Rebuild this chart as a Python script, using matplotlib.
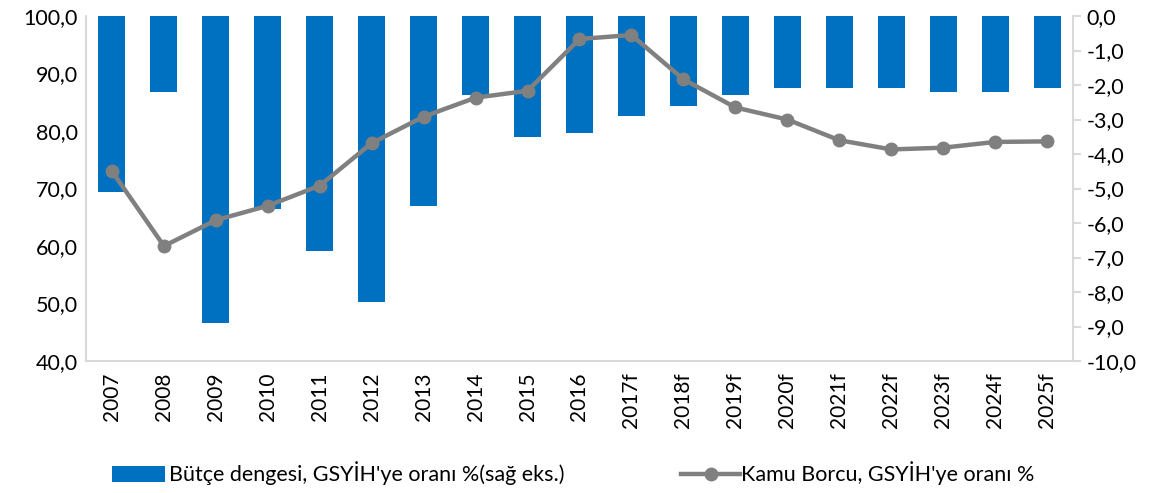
import matplotlib
matplotlib.use("Agg")
import matplotlib.pyplot as plt
from matplotlib.patches import Patch
from matplotlib.lines import Line2D

plt.rcParams['font.family'] = ['Lato', 'DejaVu Sans']

years = ['2007', '2008', '2009', '2010', '2011', '2012', '2013', '2014', '2015', '2016',
         '2017f', '2018f', '2019f', '2020f', '2021f', '2022f', '2023f', '2024f', '2025f']
budget_balance = [-5.1, -2.2, -8.9, -5.6, -6.8, -8.3, -5.5, -2.3, -3.5, -3.4,
                  -2.9, -2.6, -2.3, -2.1, -2.1, -2.1, -2.2, -2.2, -2.1]
public_debt = [73.0, 60.0, 64.5, 67.0, 70.5, 77.9, 82.5, 85.8, 87.0, 96.0,
               96.7, 89.0, 84.1, 82.0, 78.4, 76.8, 77.1, 78.1, 78.2]
left_ticks = [40, 50, 60, 70, 80, 90, 100]
right_ticks = [0, -1, -2, -3, -4, -5, -6, -7, -8, -9, -10]

blue = '#0070C0'
grey = '#808080'
spine_c = '#D9D9D9'
fs = 15.5

fig = plt.figure(figsize=(11.53, 4.93), dpi=100)
ax = fig.add_axes([0.0746, 0.2677, 0.8560, 0.6998])
ax2 = ax.twinx()

x = list(range(len(years)))
ax2.bar(x, budget_balance, width=0.52, color=blue, zorder=2)
ax2.set_ylim(-10, 0)
ax2.set_yticks(right_ticks)
ax2.set_yticklabels([f"{v:.1f}".replace('.', ',') for v in right_ticks], fontsize=fs)

ax.plot(x, public_debt, color=grey, lw=3.2, marker='o', markersize=9, zorder=3)
ax.set_ylim(40, 100)
ax.set_yticks(left_ticks)
ax.set_yticklabels([f"{v:.1f}".replace('.', ',') for v in left_ticks], fontsize=fs)
ax.set_xlim(-0.5, len(years) - 0.5)
ax.set_xticks(x)
ax.set_xticklabels(years, rotation=90, fontsize=15)

ax.set_zorder(ax2.get_zorder() + 1)
ax.patch.set_visible(False)

for a in (ax, ax2):
    a.spines['top'].set_visible(False)
    for s in ('left', 'right', 'bottom'):
        a.spines[s].set_color(spine_c)
        a.spines[s].set_linewidth(1.5)
ax.spines['right'].set_visible(False)
ax2.spines['left'].set_visible(False)
ax2.spines['bottom'].set_visible(False)
ax.tick_params(axis='y', length=0, pad=6)
ax.tick_params(axis='x', length=0, pad=8)
ax2.tick_params(axis='y', length=6, width=1.5, color=spine_c, pad=4)

h1 = Patch(facecolor=blue, edgecolor='none')
h2 = Line2D([0], [0], color=grey, lw=3.2, marker='o', markersize=9)
fig.legend([h1], ["Bütçe dengesi, GSYİH'ye oranı %(sağ eks.)"], loc='center left',
           bbox_to_anchor=(0.080, 0.04), frameon=False, fontsize=fs,
           handlelength=2.5, handleheight=0.75, handletextpad=0.15)
fig.legend([h2], ["Kamu Borcu, GSYİH'ye oranı %"], loc='center left',
           bbox_to_anchor=(0.574, 0.04), frameon=False, fontsize=fs,
           handlelength=2.75, handletextpad=0.05)

fig.savefig('out.png', dpi=100)
